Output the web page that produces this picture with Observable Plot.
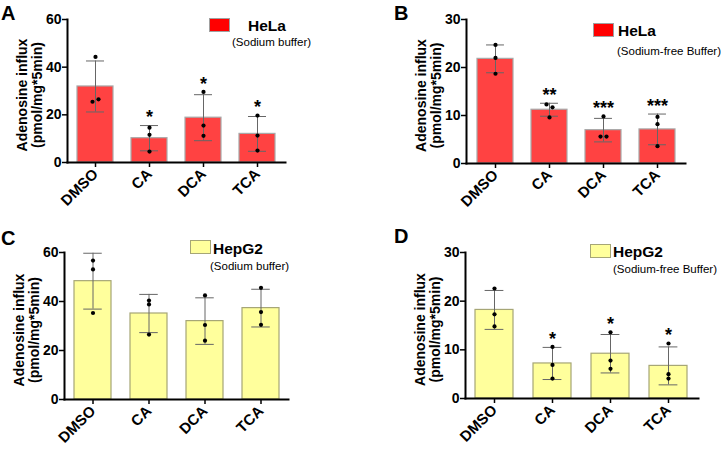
<!DOCTYPE html>
<html><head><meta charset="utf-8">
<script src="https://cdn.jsdelivr.net/npm/d3@7"></script>
<script src="https://cdn.jsdelivr.net/npm/@observablehq/plot@0.6"></script>
<style>
body{margin:0;background:#fff;font-family:"Liberation Sans",Arial,Helvetica,sans-serif;}
#root{position:relative;width:725px;height:450px;overflow:hidden;background:#fff}
.panel{position:absolute}
#overlay{position:absolute;left:0;top:0;pointer-events:none}
</style></head><body><div id="root"></div>
<script>
const treatments = ["DMSO", "CA", "DCA", "TCA"];
const yTitle = "Adenosine influx\n(pmol/mg*5min)";

// Panel A: HeLa, sodium buffer
const aMean = [31.9, 10.2, 18.8, 12.0];
const aSD = [10.7, 5.3, 9.65, 7.3];
const aReps = [[44.3, 25.5, 26.5], [14.6, 11.6, 4.6], [29.6, 15.5, 11.2], [19.7, 11.3, 5.0]];
const aSig = ["", "*", "*", "*"];
const aTicks = [0, 20, 40, 60];

// Panel B: HeLa, sodium-free buffer
const bMean = [21.8, 11.2, 6.95, 7.1];
const bSD = [2.9, 1.35, 2.45, 3.2];
const bReps = [[24.7, 22.0, 18.7], [12.3, 11.7, 9.6], [5.6, 5.6, 9.8], [9.7, 8.2, 3.6]];
const bSig = ["", "**", "***", "***"];
const bTicks = [0, 10, 20, 30];

// Panel C: HepG2, sodium buffer
const cMean = [48.3, 35.1, 32.0, 37.3];
const cSD = [11.4, 7.8, 9.5, 7.7];
const cReps = [[56.7, 53.1, 35.3], [40.4, 38.8, 26.5], [42.5, 30.4, 24.0], [45.6, 35.7, 30.5]];
const cSig = ["", "", "", ""];
const cTicks = [0, 20, 40, 60];

// Panel D: HepG2, sodium-free buffer
const dMean = [18.2, 7.2, 9.2, 6.7];
const dSD = [4.0, 3.3, 3.95, 3.9];
const dReps = [[22.6, 17.3, 14.8], [10.6, 6.9, 4.1], [13.6, 7.8, 6.1], [11.3, 5.0, 4.1]];
const dSig = ["", "*", "*", "*"];
const dTicks = [0, 10, 20, 30];

const FONT = "'Liberation Sans', Arial, Helvetica, sans-serif";
const RED = {fill: "#ff4242", stroke: "#a8a8a8", legendFill: "#ff0000", legendStroke: "#a0a0a0"};
const YEL = {fill: "#ffff9c", stroke: "#a6a676", legendFill: "#ffff9c", legendStroke: "#a6a676"};

function panel(cfg) {
  const {mean, sd, reps, sig, ticks, col, width, height, ml, mr, mt, mb} = cfg;
  const ymax = ticks[ticks.length - 1];
  const pInner = 0.34;
  const step = (width - ml - mr) / 4;
  const bw = step * (1 - pInner);
  const k = (height - mt - mb) / ymax;
  const bars = treatments.map((t, i) => ({
    t, mean: mean[i], lo: mean[i] - sd[i], hi: mean[i] + sd[i], sig: sig[i],
    top: Math.max(mean[i] + sd[i], d3.max(reps[i]))
  }));
  const dots = [];
  reps.forEach((vals, i) => vals.forEach((v, j) => {
    let off = 0;
    vals.forEach((w, m) => { if (m !== j && Math.abs(w - v) * k < 3.5) off = j < m ? -1 : 1; });
    dots.push({t: treatments[i], v, off});
  }));
  const dotMark = (o) => Plot.dot(dots.filter(d => d.off === o), {x: "t", y: "v", r: 2.1, fill: "#000", stroke: "none", dx: o * 3});
  return Plot.plot({
    width, height, marginLeft: ml, marginRight: mr, marginTop: mt, marginBottom: mb,
    style: {fontFamily: FONT, color: "#000", background: "transparent", overflow: "visible"},
    x: {domain: treatments, paddingInner: pInner, paddingOuter: pInner / 2, label: null},
    y: {domain: [0, ymax], label: null},
    marks: [
      Plot.barY(bars, {x: "t", y: "mean", fill: col.fill, stroke: col.stroke, strokeWidth: 1.2}),
      Plot.ruleX(bars, {x: "t", y1: "lo", y2: "hi", stroke: "#666", strokeWidth: 1}),
      Plot.tickY(bars, {x: "t", y: "hi", stroke: "#666", strokeWidth: 1, insetLeft: bw / 4, insetRight: bw / 4}),
      Plot.tickY(bars, {x: "t", y: "lo", stroke: "#666", strokeWidth: 1, insetLeft: bw / 4, insetRight: bw / 4}),
      dotMark(-1), dotMark(0), dotMark(1),
      Plot.text(bars.filter(d => d.sig), {x: "t", y: "top", text: "sig", dy: -8, fontSize: 18, fontWeight: "bold", fill: "#000"}),
      Plot.axisY({ticks, tickSize: 5, tickPadding: 1, fontSize: 14, fontWeight: "bold", label: null, strokeWidth: 1.5}),
      Plot.axisX({tickRotate: -45, tickSize: 5, tickPadding: 4, fontSize: 15, fontWeight: "bold", label: null, strokeWidth: 1.5}),
      Plot.frame({anchor: "left", strokeWidth: 2, stroke: "#000"}),
      Plot.frame({anchor: "bottom", strokeWidth: 2, stroke: "#000"}),
      Plot.text([yTitle], {frameAnchor: "left", textAnchor: "middle", rotate: -90, dx: -38, dy: 4, fontSize: 14, fontWeight: "bold", lineHeight: 1.05, fill: "#000"})
    ]
  });
}

const root = document.getElementById("root");
const layout = [
  {left: 0, top: 0, mean: aMean, sd: aSD, reps: aReps, sig: aSig, ticks: aTicks, col: RED, width: 360, height: 225, ml: 67, mr: 75, mt: 19, mb: 63},
  {left: 360, top: 0, mean: bMean, sd: bSD, reps: bReps, sig: bSig, ticks: bTicks, col: RED, width: 365, height: 225, ml: 106, mr: 40, mt: 19, mb: 62},
  {left: 0, top: 225, mean: cMean, sd: cSD, reps: cReps, sig: cSig, ticks: cTicks, col: YEL, width: 360, height: 225, ml: 64, mr: 72, mt: 27, mb: 51},
  {left: 360, top: 225, mean: dMean, sd: dSD, reps: dReps, sig: dSig, ticks: dTicks, col: YEL, width: 365, height: 225, ml: 105, mr: 27, mt: 27, mb: 52}
];
layout.forEach(cfg => {
  const div = document.createElement("div");
  div.className = "panel";
  div.style.left = cfg.left + "px";
  div.style.top = cfg.top + "px";
  div.appendChild(panel(cfg));
  root.appendChild(div);
});

// panel letters and legends
const letters = [["A", 1, 20], ["B", 394, 20], ["C", 1, 245], ["D", 394, 243]];
const legends = [
  {col: RED, name: "HeLa", sub: "(Sodium buffer)", sx: 209, sy: 18, nx: 248, ny: 31, ux: 232, uy: 46},
  {col: RED, name: "HeLa", sub: "(Sodium-free Buffer)", sx: 593, sy: 23, nx: 618, ny: 36, ux: 617, uy: 55},
  {col: YEL, name: "HepG2", sub: "(Sodium buffer)", sx: 190, sy: 240, nx: 213, ny: 254, ux: 210, uy: 270},
  {col: YEL, name: "HepG2", sub: "(Sodium-free Buffer)", sx: 590, sy: 244, nx: 613, ny: 257, ux: 613, uy: 273}
];
const svg = d3.select(root).append("svg").attr("id", "overlay").attr("width", 725).attr("height", 450)
  .style("font-family", FONT);
letters.forEach(([t, x, y]) => svg.append("text").attr("x", x).attr("y", y).attr("font-size", 20).attr("font-weight", "bold").text(t));
legends.forEach(l => {
  svg.append("rect").attr("x", l.sx + 0.5).attr("y", l.sy + 0.5).attr("width", 20).attr("height", 13)
    .attr("fill", l.col.legendFill).attr("stroke", l.col.legendStroke).attr("stroke-width", 1);
  svg.append("text").attr("x", l.nx).attr("y", l.ny).attr("font-size", 15.5).attr("font-weight", "bold").text(l.name);
  svg.append("text").attr("x", l.ux).attr("y", l.uy).attr("font-size", 11.5).text(l.sub);
});
</script></body></html>
